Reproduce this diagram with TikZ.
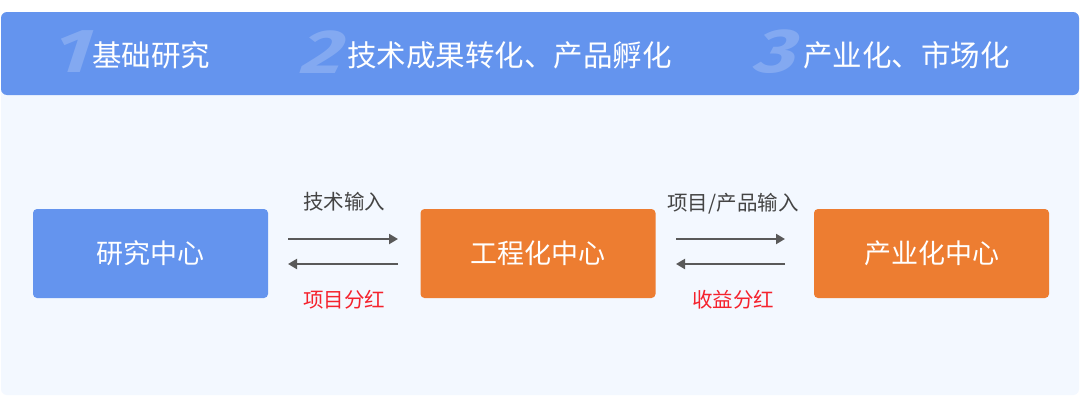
\documentclass[tikz,border=0pt]{standalone}
\usepackage{fontspec}
\newfontfamily\cjk{Noto Sans CJK SC}
\newfontfamily\numfont[FakeSlant=0.25]{Fira Sans}
\usetikzlibrary{arrows.meta}
\definecolor{hdrblue}{HTML}{6494EE}
\definecolor{bodybg}{HTML}{F3F8FF}
\definecolor{boxorange}{HTML}{ED7D31}
\definecolor{arrgray}{HTML}{595959}
\definecolor{labgray}{HTML}{444444}
\definecolor{redlab}{HTML}{F5222D}
\begin{document}
\begin{tikzpicture}[x=1pt,y=-1pt,
  hdrtext/.style={anchor=west,text=white,font=\cjk\fontsize{29.5}{32}\selectfont,inner sep=0pt},
  bignum/.style={anchor=center,text=white,opacity=0.2,font=\numfont\bfseries\fontsize{62}{62}\selectfont,inner sep=0pt},
  blk/.style={rounded corners=4pt,minimum width=235pt,minimum height=89pt,text=white,font=\cjk\fontsize{27}{30}\selectfont,inner sep=0pt},
  lab/.style={font=\cjk\fontsize{20.5}{24}\selectfont,inner sep=0pt},
  arr/.style={draw=arrgray,line width=2pt,-{Triangle[length=9pt,width=10pt]}}
]
\useasboundingbox (0,0) rectangle (1080,407);
\fill[white] (0,0) rectangle (1080,407);
\fill[bodybg,rounded corners=6pt] (1,12) rectangle (1079,395);
\fill[hdrblue,rounded corners=6pt] (1,12) rectangle (1079,95);
% header
\node[bignum] (n1) at (68,52) {\scalebox{1.3}[1]{1}};
\node[hdrtext] (h1) at (92,55) {基础研究};
\node[bignum] (n2) at (318,52) {\scalebox{1.3}[1]{2}};
\node[hdrtext] (h2) at (347,55) {技术成果转化、产品孵化};
\node[bignum] (n3) at (772,52) {\scalebox{1.3}[1]{3}};
\node[hdrtext] (h3) at (803,55) {产业化、市场化};
% boxes
\node[blk,fill=hdrblue] (a) at (150.5,253.5) {研究中心};
\node[blk,fill=boxorange] (b) at (538,253.5) {工程化中心};
\node[blk,fill=boxorange] (c) at (931.5,253.5) {产业化中心};
% arrows
\coordinate (a1s) at (288,239); \coordinate (a1e) at (398,239);
\coordinate (a2s) at (398,264); \coordinate (a2e) at (288,264);
\draw[arr] (a1s) -- (a1e);
\draw[arr] (a2s) -- (a2e);
\coordinate (b1s) at (676,239); \coordinate (b1e) at (785,239);
\coordinate (b2s) at (785,264); \coordinate (b2e) at (676,264);
\draw[arr] (b1s) -- (b1e);
\draw[arr] (b2s) -- (b2e);
\node[lab,text=labgray] (l1) at (344,202) {技术输入};
\node[lab,text=redlab] (l2) at (344,300) {项目分红};
\node[lab,text=labgray] (l3) at (733,204) {项目/产品输入};
\node[lab,text=redlab] (l4) at (733,300) {收益分红};
\end{tikzpicture}
\end{document}
